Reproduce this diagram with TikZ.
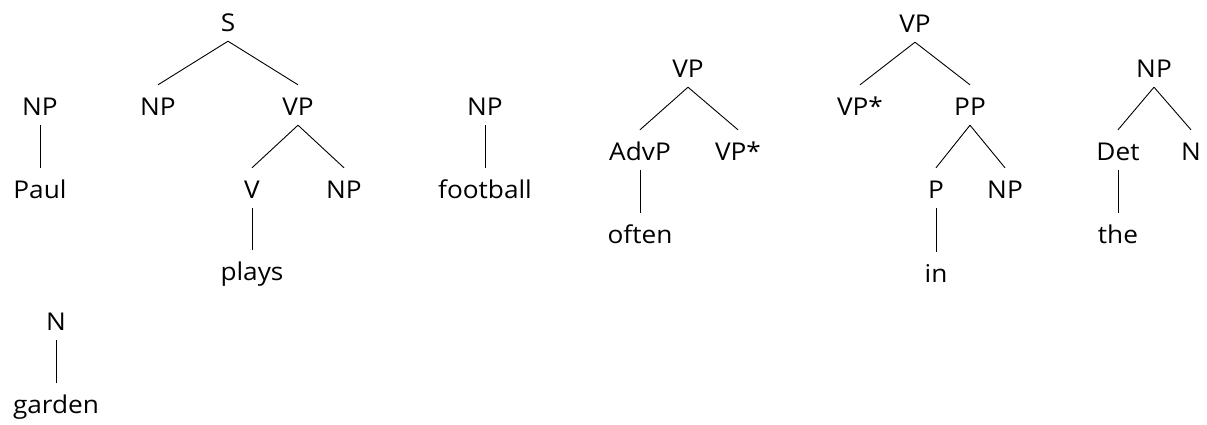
\documentclass[tikz,border=0pt]{standalone}
\usepackage{fontspec}
\setmainfont{Open Sans}[FakeStretch=1.07]
\begin{document}
\begin{tikzpicture}[x=1pt,y=-1pt,
  lab/.style={anchor=base,inner sep=0pt,text height=30pt,text depth=10pt,font=\fontsize{24.5pt}{29pt}\selectfont},
  br/.style={line width=0.9pt}]
\useasboundingbox (0,0) rectangle (1207,424);
% Paul
\node[lab] (np1) at (40,115) {NP};
\node[lab] (paul) at (40,198) {Paul};
\draw[br] (np1.south) -- (paul.north);
% garden
\node[lab] (n1) at (56,330) {N};
\node[lab] (garden) at (56,413) {garden};
\draw[br] (n1.south) -- (garden.north);
% plays
\node[lab] (s) at (228,31) {S};
\node[lab] (np2) at (158,115) {NP};
\node[lab] (vp1) at (298,115) {VP};
\node[lab] (v) at (252,198) {V};
\node[lab] (np3) at (344,198) {NP};
\node[lab] (plays) at (252,280) {plays};
\draw[br] (s.south) -- (np2.north);
\draw[br] (s.south) -- (vp1.north);
\draw[br] (vp1.south) -- (v.north);
\draw[br] (vp1.south) -- (np3.north);
\draw[br] (v.south) -- (plays.north);
% football
\node[lab] (np4) at (485,115) {NP};
\node[lab] (football) at (485,198) {football};
\draw[br] (np4.south) -- (football.north);
% often
\node[lab] (vp2) at (688,77) {VP};
\node[lab] (advp) at (640,160) {AdvP};
\node[lab] (vps1) at (738,160) {VP*};
\node[lab] (often) at (640,243) {often};
\draw[br] (vp2.south) -- (advp.north);
\draw[br] (vp2.south) -- (vps1.north);
\draw[br] (advp.south) -- (often.north);
% in
\node[lab] (vp3) at (915,32) {VP};
\node[lab] (vps2) at (860,115) {VP*};
\node[lab] (pp) at (970,115) {PP};
\node[lab] (p) at (936,198) {P};
\node[lab] (np5) at (1005,198) {NP};
\node[lab] (in) at (936,282) {in};
\draw[br] (vp3.south) -- (vps2.north);
\draw[br] (vp3.south) -- (pp.north);
\draw[br] (pp.south) -- (p.north);
\draw[br] (pp.south) -- (np5.north);
\draw[br] (p.south) -- (in.north);
% the
\node[lab] (np6) at (1154,77) {NP};
\node[lab] (det) at (1118,160) {Det};
\node[lab] (n2) at (1191,160) {N};
\node[lab] (the) at (1118,243) {the};
\draw[br] (np6.south) -- (det.north);
\draw[br] (np6.south) -- (n2.north);
\draw[br] (det.south) -- (the.north);
\end{tikzpicture}
\end{document}
